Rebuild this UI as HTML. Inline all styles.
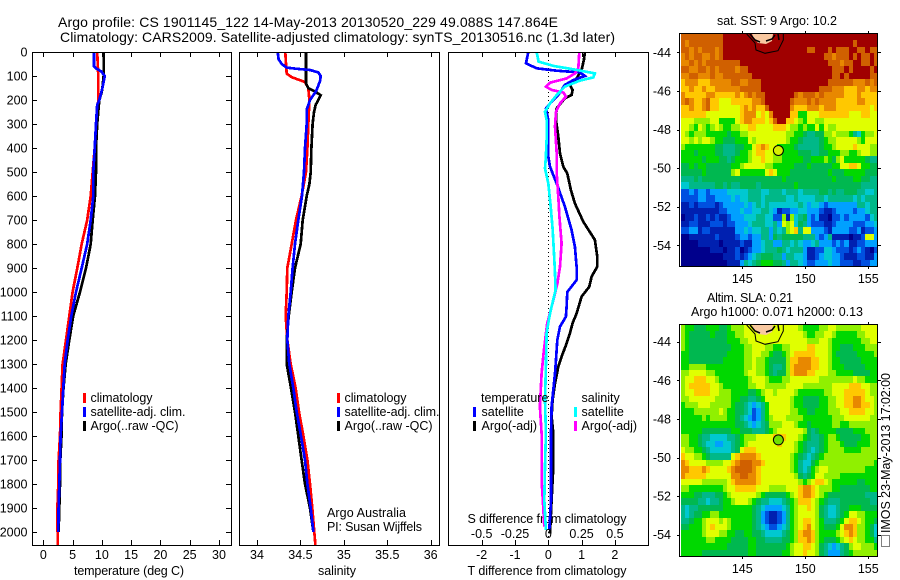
<!DOCTYPE html>
<html lang="en">
<head>
<meta charset="utf-8">
<title>Argo profile</title>
<style>
html,body{margin:0;padding:0;background:#fff;}
svg{display:block;font-family:"Liberation Sans",sans-serif;font-size:12.5px;fill:#000;}
text{fill:#000;}
</style>
</head>
<body>
<svg id="chart" xmlns="http://www.w3.org/2000/svg" width="900" height="580" viewBox="0 0 900 580">
<rect x="0" y="0" width="900" height="580" fill="#fff"/>
<text x="58" y="27" font-size="14" textLength="500" lengthAdjust="spacing">Argo profile: CS 1901145_122 14-May-2013 20130520_229 49.088S 147.864E</text>
<text x="60" y="42" font-size="14" textLength="555" lengthAdjust="spacing">Climatology: CARS2009. Satellite-adjusted climatology: synTS_20130516.nc (1.3d later)</text>
<text x="129" y="575" text-anchor="middle" textLength="110" lengthAdjust="spacing">temperature (deg C)</text>
<text x="337" y="575" text-anchor="middle" textLength="38" lengthAdjust="spacing">salinity</text>
<text x="547" y="575" text-anchor="middle" textLength="159" lengthAdjust="spacing">T difference from climatology</text>
<text x="547" y="523" text-anchor="middle" textLength="159" lengthAdjust="spacing">S difference from climatology</text>
<g>
<rect x="83" y="393" width="3" height="10" fill="#f00"/>
<rect x="83" y="407" width="3" height="10" fill="#00f"/>
<rect x="83" y="421" width="3" height="10" fill="#000"/>
<text x="90.5" y="402" textLength="62" lengthAdjust="spacing">climatology</text>
<text x="90.5" y="416" textLength="95" lengthAdjust="spacing">satellite-adj. clim.</text>
<text x="90.5" y="430" textLength="88" lengthAdjust="spacing">Argo(..raw -QC)</text>
</g>
<g>
<rect x="337" y="393" width="3" height="10" fill="#f00"/>
<rect x="337" y="407" width="3" height="10" fill="#00f"/>
<rect x="337" y="421" width="3" height="10" fill="#000"/>
<text x="344.5" y="402" textLength="62" lengthAdjust="spacing">climatology</text>
<text x="344.5" y="416" textLength="95" lengthAdjust="spacing">satellite-adj. clim.</text>
<text x="344.5" y="430" textLength="88" lengthAdjust="spacing">Argo(..raw -QC)</text>
<text x="327" y="517" textLength="79" lengthAdjust="spacing">Argo Australia</text>
<text x="327" y="531" textLength="95" lengthAdjust="spacing">PI: Susan Wijffels</text>
</g>
<g id="overlays-placeholder"></g>
<text x="777" y="25" text-anchor="middle" textLength="120" lengthAdjust="spacing">sat. SST: 9 Argo: 10.2</text>
<text x="750" y="302" text-anchor="middle" textLength="86" lengthAdjust="spacing">Altim. SLA: 0.21</text>
<text x="777" y="316" text-anchor="middle" textLength="172" lengthAdjust="spacing">Argo h1000: 0.071 h2000: 0.13</text>
<text transform="translate(890,533) rotate(-90)" textLength="160" lengthAdjust="spacing">IMOS 23-May-2013 17:02:00</text>
<rect x="881.5" y="535.5" width="8" height="11" fill="none" stroke="#000" stroke-width="1" stroke-dasharray="1 1"/>
</svg>
<script>
// ---- profile data ----
const depthTicks=[0,100,200,300,400,500,600,700,800,900,1000,1100,1200,1300,1400,1500,1600,1700,1800,1900,2000];
const tempTicks=[0,5,10,15,20,25,30];
const salTicks=[34,34.5,35,35.5,36];
const salTickLabels=["34","34.5","35","35.5","36"];
const tDiffTicks=[-2,-1,0,1,2];
const sDiffTicks=[-0.5,-0.25,0,0.25,0.5];
const sDiffTickLabels=["-0.5","-0.25","0","0.25","0.5"];
const latTicks=[-44,-46,-48,-50,-52,-54];
const lonTicks=[145,150,155];

const tempArgoDepth=[0,100,150,170,200,300,400,500,600,700,800,850,900,1000,1100,1200,1300,1400,1500,1600,1700,1800,1900,2000];
const tempArgo=[10.3,10.3,10.1,9.95,9.57,9.2,9.0,9.0,8.83,8.43,8.09,7.7,7.3,6.27,5.1,4.44,3.82,3.45,3.2,3.1,2.9,2.85,2.74,2.62];
const tempSatDepth=[0,60,70,80,100,150,200,220,300,400,500,600,700,800,900,1000,1100,1200,1300,1400,1500,1600,1700,1800,1900,2000];
const tempSat=[8.66,8.66,9.1,9.85,10.5,10.1,9.57,9.2,9.0,8.77,8.54,8.54,8.09,7.5,6.55,5.58,4.78,4.16,3.65,3.41,3.2,2.96,2.85,2.73,2.62,2.56];
const tempClimDepth=[0,100,200,300,400,500,600,700,800,900,1000,1100,1200,1300,1400,1500,1600,1700,1800,1900,2000,2054];
const tempClim=[9.2,9.39,9.39,9.0,8.77,8.43,8.09,7.5,6.55,5.8,5.0,4.44,3.87,3.3,3.13,2.96,2.85,2.62,2.56,2.4,2.45,2.45];

const salArgoDepth=[0,130,150,165,180,200,220,250,300,400,500,550,600,700,800,900,1000,1100,1200,1300,1400,1500,1600,1700,1800,1900,2000];
const salArgo=[34.564,34.564,34.59,34.668,34.733,34.706,34.676,34.656,34.64,34.626,34.618,34.603,34.572,34.526,34.503,34.438,34.40,34.365,34.342,34.342,34.392,34.438,34.476,34.514,34.553,34.61,34.649];
const salSatDepth=[0,30,50,65,70,75,85,100,120,150,170,200,240,300,400,500,600,700,800,900,1000,1100,1200,1300,1400,1500,1600,1700,1800,1900,2000];
const salSat=[34.238,34.249,34.284,34.342,34.457,34.61,34.706,34.733,34.726,34.695,34.668,34.61,34.572,34.572,34.553,34.541,34.518,34.476,34.438,34.41,34.388,34.36,34.349,34.372,34.418,34.457,34.507,34.553,34.58,34.618,34.649];
const salClimDepth=[0,50,90,105,125,150,200,300,400,500,600,700,800,900,1000,1100,1200,1300,1400,1500,1600,1700,1800,1900,2000,2054];
const salClim=[34.326,34.334,34.342,34.4,34.553,34.591,34.603,34.591,34.58,34.564,34.514,34.449,34.399,34.349,34.342,34.33,34.349,34.388,34.445,34.484,34.534,34.58,34.61,34.637,34.66,34.672];

const diffArgoTDepth=[0,33,75,110,137,158,179,193,235,283,353,422,478,506,575,631,707,783,853,894,936,978,1019,1089,1130,1172,1214,1269,1311,1381,1450,1519,1589,1728,1867,2006];
const diffArgoT=[1.10,1.07,1.00,0.85,0.65,0.73,0.70,0.50,0.25,0.23,0.30,0.35,0.45,0.57,0.68,0.80,1.05,1.40,1.47,1.47,1.30,1.23,1.00,0.85,0.73,0.65,0.55,0.40,0.30,0.20,0.13,0.10,0.15,0.15,0.10,0.05];
const diffSatTDepth=[0,47,68,78,85,100,117,137,179,207,235,283,367,436,478,547,644,742,811,894,950,1000,1061,1103,1144,1200,1283,1339,1408,1478,1589,1728,1867,1992];
const diffSatT=[-0.60,-0.67,-0.35,0.25,0.95,1.10,0.75,0.50,0.30,0.10,-0.07,0,0,0,0.05,0.25,0.50,0.70,0.80,0.85,0.85,0.57,0.55,0.53,0.35,0.27,0.23,0.20,0.15,0.10,0.08,0.08,0.08,0.03];
const diffSatSDepth=[0,40,58,72,89,106,119,144,179,214,249,283,367,436,485,547,644,742,839,922,992,1061,1103,1172,1311,1450,1589,1728,1867,1992];
const diffSatS=[-0.088,-0.073,0.038,0.188,0.35,0.338,0.238,0.125,0.063,0.013,-0.025,-0.013,-0.013,-0.018,-0.025,0,0.018,0.033,0.043,0.05,0.055,0.025,0.008,-0.013,-0.018,-0.025,-0.018,-0.025,-0.03,-0.018];
const diffArgoSDepth=[0,68,89,110,128,144,158,169,186,214,249,311,422,506,603,686,797,894,964,1033,1131,1242,1339,1478,1589,1783,1894,1978];
const diffArgoS=[0.233,0.225,0.2,0.138,0.013,-0.018,0.025,0.113,0.133,0.088,0.058,0.05,0.063,0.063,0.075,0.083,0.1,0.088,0.068,0.038,-0.008,-0.033,-0.05,-0.063,-0.05,-0.05,-0.038,-0.03];
const zeroLineDepth=[0,2054];
const zeroLine=[0,0];

// ---- map data: colour level 0 (navy) .. 13 (dark red) ----
const mapColours=["#00008c","#0020b0","#0050e0","#00a0ff","#00c8d0","#00b888","#00b850","#00d800","#90f000","#e0ff00","#ffc800","#e88800","#d06000","#a00000"];
const sstGrid=[
[12,12,12,12,12,12,12,12,12,12,13,13,13,13,13,13,13,13,13,13,13,13,13,13,13,13,13,13,13,13,13,13,13,13,13,13,13,13,13,13,13,13,13,13,13,13,13],
[12,11,12,12,12,12,12,12,12,12,13,13,13,13,13,13,13,13,13,13,13,13,13,13,13,13,13,13,13,13,13,13,13,13,13,13,13,13,13,13,13,12,13,13,13,13,13],
[12,12,11,12,11,12,12,12,11,12,13,13,13,13,13,13,13,13,13,13,13,13,13,13,13,13,13,13,13,13,12,12,13,13,13,12,13,12,12,12,13,13,12,12,13,12,12],
[11,12,11,12,12,11,11,12,11,12,13,13,13,13,13,13,13,13,13,13,13,13,13,13,13,13,13,13,13,13,13,13,13,13,12,12,11,12,12,12,13,12,13,12,12,13,12],
[11,11,12,11,12,11,12,12,12,12,12,12,12,12,13,13,13,13,13,13,13,13,13,13,13,13,13,13,13,13,13,13,13,13,13,12,12,12,11,12,12,13,13,12,12,13,12],
[12,12,11,11,12,12,11,12,11,12,12,12,12,11,12,12,13,13,13,13,13,13,13,13,13,13,13,13,13,13,13,13,13,13,13,13,12,12,12,13,12,13,13,13,13,12,13],
[11,11,12,12,11,11,11,12,11,11,12,12,12,12,12,12,12,13,13,13,13,13,13,13,13,13,13,13,13,13,13,13,13,13,13,13,12,12,13,12,13,13,13,13,13,12,12],
[10,11,11,11,10,10,10,11,11,11,11,11,12,12,11,11,12,12,12,13,13,13,13,13,13,13,13,13,13,13,13,13,13,13,13,12,12,12,12,12,12,11,11,11,12,11,12],
[10,10,11,10,10,11,10,10,11,11,11,11,11,11,12,12,12,12,12,13,13,13,13,13,13,13,13,13,13,13,13,13,13,12,12,12,11,11,11,10,10,10,11,11,10,11,11],
[11,10,10,10,10,10,11,11,10,10,10,10,10,11,10,11,12,11,12,12,13,13,13,13,13,13,13,12,11,12,12,12,11,12,11,11,11,11,11,10,10,10,11,10,10,10,10],
[11,12,11,10,10,11,12,10,10,9,9,9,10,10,10,10,10,11,11,12,13,13,13,13,13,13,12,11,11,11,12,11,12,11,11,11,11,10,10,10,10,10,11,11,10,10,10],
[10,10,11,10,10,11,12,10,10,9,9,9,9,9,10,11,10,11,10,10,12,13,13,13,13,13,11,10,10,10,11,11,11,10,11,11,11,10,10,10,10,10,10,10,10,9,10],
[10,10,10,10,10,10,9,9,9,9,9,9,9,9,10,11,11,11,9,10,9,11,13,13,13,13,10,10,7,7,9,9,9,10,10,10,10,10,10,10,9,9,9,10,10,9,9],
[9,9,9,8,8,8,8,9,9,7,7,7,7,9,10,11,11,10,10,10,9,10,12,13,13,10,10,9,8,7,9,9,8,8,9,9,9,9,9,9,9,9,9,9,9,9,9],
[9,9,8,7,9,8,7,8,9,8,7,7,8,8,9,9,10,10,9,9,9,9,10,10,10,9,8,8,7,8,7,7,9,7,9,8,8,9,9,9,9,9,9,9,9,9,9],
[9,8,7,8,8,8,7,7,7,7,7,6,7,7,8,8,9,9,9,9,9,9,9,9,9,8,8,7,7,6,5,5,6,6,8,8,9,8,8,8,7,5,4,7,8,8,9],
[9,9,8,9,8,9,9,8,7,7,6,6,6,7,7,7,9,8,9,9,9,9,9,9,9,8,7,7,6,5,5,5,5,6,7,8,8,9,9,9,9,9,8,7,9,9,9],
[8,7,7,7,7,7,7,7,6,6,5,5,5,6,6,7,7,9,10,11,10,9,9,7,7,7,7,6,5,5,5,5,5,6,7,7,8,9,9,9,9,10,9,9,9,8,8],
[7,7,7,6,7,7,7,7,6,6,5,5,5,6,7,7,8,9,10,10,9,9,8,8,7,7,7,7,6,6,6,5,5,6,6,7,7,7,8,8,7,7,8,9,9,8,8],
[7,7,7,7,7,6,7,7,7,6,6,5,6,7,7,7,8,9,9,10,9,9,8,8,7,7,7,7,7,6,6,7,7,7,8,7,6,8,9,7,7,7,7,7,6,5,5],
[6,6,7,6,7,7,6,6,6,6,6,6,7,7,8,9,9,9,9,9,8,8,7,7,7,7,7,6,6,6,7,6,6,6,6,6,7,7,9,9,10,10,9,7,7,6,6],
[6,6,6,6,6,7,6,6,6,6,6,6,8,9,7,7,7,7,7,7,9,10,9,7,7,7,6,6,6,6,6,6,6,6,6,7,6,6,6,7,7,7,7,7,6,6,6],
[5,5,5,6,5,6,6,6,6,6,6,6,6,6,6,6,6,6,6,6,6,6,6,6,7,6,6,6,6,6,6,6,6,6,6,6,7,6,6,6,6,7,7,6,6,5,5],
[4,4,5,5,5,5,5,5,6,6,5,6,5,5,6,6,6,6,5,6,6,6,6,6,6,6,6,7,6,6,6,6,6,6,6,6,6,6,6,6,6,6,6,5,5,5,5],
[2,2,3,2,3,3,2,3,3,3,3,4,4,4,4,4,5,5,5,4,4,5,5,5,4,5,5,5,4,5,5,5,5,6,6,5,6,5,5,6,6,6,5,5,4,4,5],
[2,2,2,2,3,3,2,2,3,3,3,3,4,3,4,4,5,5,5,4,5,5,5,5,5,4,4,5,4,4,4,4,5,5,4,5,5,5,5,5,5,4,5,4,5,5,5],
[1,1,2,1,2,2,2,2,1,2,3,3,3,3,3,4,3,4,5,4,5,4,4,4,4,4,4,4,5,4,3,4,4,3,2,3,3,3,3,3,3,3,5,5,4,5,5],
[1,1,1,1,1,1,1,1,1,2,2,3,3,3,4,3,3,4,4,5,5,4,3,1,2,2,3,3,4,4,3,3,3,2,1,1,2,3,3,3,3,2,3,3,4,5,5],
[0,1,1,2,1,1,2,1,2,1,1,2,3,3,3,4,4,4,5,5,4,4,2,2,8,1,8,4,5,6,3,2,3,1,1,0,2,2,3,2,3,3,3,3,2,4,5],
[1,1,2,2,1,1,1,2,2,2,1,2,2,3,3,3,4,5,5,5,4,4,5,3,9,8,9,4,6,5,3,2,2,2,1,1,2,3,3,3,3,2,2,2,3,3,4],
[2,2,3,3,1,2,2,1,1,1,1,1,1,3,3,4,3,4,4,5,5,3,5,4,5,8,9,10,5,9,9,3,3,3,2,1,3,3,3,3,2,2,3,1,2,2,3],
[0,0,1,1,1,1,1,1,2,1,1,1,1,2,3,3,2,3,3,5,5,3,6,5,6,6,6,6,6,5,5,5,3,2,3,5,1,1,1,1,0,1,1,2,9,9,3],
[0,0,0,0,1,1,1,1,1,0,1,1,1,1,2,1,1,3,3,4,5,5,3,3,5,5,4,5,4,3,3,4,5,3,3,3,2,3,2,3,1,1,2,2,3,3,3],
[0,0,0,0,0,0,0,1,1,1,0,1,1,2,0,1,2,3,3,4,5,5,5,6,5,4,5,5,5,3,1,1,2,2,4,4,3,2,2,2,1,2,3,2,1,0,2],
[0,0,0,0,0,0,0,0,0,0,1,1,1,2,1,2,3,4,5,6,6,6,5,5,3,5,5,4,4,3,1,1,2,3,4,4,3,3,2,1,1,1,2,2,1,1,3],
[0,0,0,0,0,0,0,0,0,0,0,1,1,1,3,5,4,5,6,7,7,7,6,6,5,3,5,5,4,3,2,2,3,3,3,4,3,3,2,2,2,1,1,2,2,3,3]
];
const slaGrid=[
[8,7,7,6,6,6,7,7,7,6,6,7,8,8,8,9,9,9,9,9,9,9,9,9,9,9,9,9,8,7,7,7,7,8,8,9,9,8,8,8,8,8,8,9,9,9,9],
[8,7,6,6,6,6,6,7,6,6,6,7,7,8,8,9,9,9,9,9,9,9,9,9,9,9,9,9,9,8,7,7,8,8,9,9,8,7,7,7,7,7,8,8,9,9,9],
[8,7,6,6,6,6,6,6,6,6,6,7,7,7,8,8,9,9,9,9,9,9,9,9,9,9,9,9,9,9,8,8,8,9,9,8,7,7,7,7,7,7,7,8,8,9,9],
[8,7,6,6,6,6,6,6,6,6,6,6,7,7,7,8,8,9,9,9,8,8,7,7,8,8,9,9,9,9,10,10,9,9,9,8,7,7,6,6,6,7,7,7,8,8,8],
[7,7,6,6,6,6,6,6,6,6,6,7,7,7,7,8,8,9,9,8,8,7,6,6,7,8,9,10,10,10,10,10,9,9,9,8,7,6,6,6,6,6,7,7,7,7,8],
[7,7,6,6,6,6,6,6,6,6,7,7,7,7,7,8,8,9,8,8,7,6,6,6,6,8,10,10,11,11,11,10,10,9,9,8,7,7,6,6,6,6,6,7,7,7,7],
[7,7,8,8,8,8,7,7,7,7,7,7,7,7,7,8,8,9,8,8,7,6,5,5,6,8,10,11,11,11,11,10,10,9,9,8,7,7,7,6,6,6,6,6,7,7,7],
[8,8,9,9,9,9,8,8,7,7,7,7,7,7,7,8,9,9,8,8,7,6,5,6,6,8,10,11,11,11,10,10,9,9,9,8,8,7,7,7,7,6,6,6,6,7,7],
[8,9,9,10,10,10,9,9,8,7,7,7,7,7,7,7,8,9,9,9,8,7,7,7,8,8,9,9,9,9,9,9,9,8,8,8,8,8,8,8,8,9,8,8,7,7,7],
[8,9,10,10,10,10,10,9,9,8,7,7,7,7,7,7,8,8,9,9,8,8,8,8,8,9,9,9,9,8,8,8,8,8,8,8,9,9,9,9,10,10,10,9,9,8,8],
[8,9,9,10,10,10,10,9,9,8,8,8,7,7,7,7,6,6,7,8,9,9,8,9,9,9,9,8,7,7,7,7,7,7,8,8,9,9,9,10,10,10,10,10,9,8,8],
[8,8,9,9,9,9,9,9,8,8,8,8,7,7,6,6,5,5,6,7,9,9,9,9,9,9,8,7,7,6,6,6,6,7,7,8,8,9,9,10,10,11,11,10,9,9,8],
[7,8,8,8,9,9,9,8,8,8,8,8,7,6,6,5,4,3,4,5,7,9,9,9,9,9,8,7,7,6,6,6,6,7,7,8,8,9,9,10,10,11,11,10,10,9,8],
[7,7,7,8,8,8,8,8,8,9,8,7,7,6,6,5,4,2,3,5,7,9,9,9,9,9,8,8,7,7,6,6,7,7,7,8,8,8,9,9,10,10,10,10,9,9,8],
[7,7,7,7,7,8,7,8,8,8,8,7,7,6,5,4,3,2,3,5,7,8,9,9,9,8,8,8,8,7,7,7,7,7,7,7,8,8,8,9,9,9,9,9,9,8,8],
[7,7,7,7,7,7,7,7,7,7,7,7,7,6,6,5,4,3,4,5,6,8,8,8,9,9,9,8,7,7,6,7,7,7,7,7,8,8,7,7,8,8,8,8,8,8,8],
[7,7,7,7,7,6,6,6,6,6,6,6,7,7,6,6,6,5,5,5,6,7,8,9,9,9,9,9,9,8,6,5,6,7,7,7,7,6,6,6,6,7,7,7,8,8,8],
[8,8,7,7,6,5,5,4,4,4,4,5,5,6,7,8,8,8,9,9,9,9,10,10,10,9,9,9,8,7,6,5,5,6,7,8,8,7,6,6,6,6,6,7,7,8,8],
[8,8,7,7,6,5,4,4,3,3,4,4,5,6,7,8,9,9,9,9,9,9,9,10,9,9,9,8,7,6,5,5,5,6,7,8,8,8,7,6,6,6,7,7,7,8,8],
[9,8,8,7,7,6,5,4,4,4,4,4,5,6,9,10,10,10,9,9,9,9,9,9,9,9,9,8,7,6,5,4,5,6,7,8,8,8,8,7,7,7,7,8,8,8,8],
[10,9,9,8,8,7,6,5,5,5,5,5,9,10,11,11,11,11,10,9,9,9,9,9,9,9,8,7,6,5,4,5,6,7,8,8,8,8,8,8,8,8,8,8,8,8,8],
[11,10,9,9,9,9,8,8,8,8,9,9,10,11,12,12,12,11,11,10,9,9,9,9,9,9,8,7,5,4,4,6,7,8,8,8,8,8,8,8,8,8,8,8,8,8,7],
[11,11,10,10,10,11,10,9,9,9,9,10,11,12,12,12,12,11,10,9,9,9,9,9,9,9,8,7,5,4,5,7,8,9,9,8,8,8,8,8,8,8,8,8,7,7,7],
[11,10,10,10,10,10,9,9,9,9,9,9,11,11,12,12,11,11,10,9,9,9,9,9,9,9,9,8,6,5,6,7,9,9,8,8,8,8,7,7,7,7,7,7,7,7,7],
[9,9,9,9,9,8,8,8,8,8,8,9,10,11,11,11,11,11,10,9,9,9,9,9,9,9,9,9,8,7,8,9,10,10,9,8,7,7,7,7,7,7,6,6,7,7,7],
[8,8,7,7,7,7,7,7,7,7,8,9,9,10,10,10,10,10,9,9,9,8,8,8,8,9,9,9,10,11,11,10,9,8,8,8,7,7,6,6,6,6,6,6,6,7,7],
[7,7,7,6,6,5,5,5,6,6,7,8,9,9,9,9,9,9,8,7,6,6,6,6,6,7,8,9,10,11,11,10,9,8,7,6,6,6,6,6,6,6,6,6,5,5,5],
[6,6,6,6,5,5,4,5,5,6,7,7,8,9,9,9,8,7,6,5,5,4,4,4,5,6,7,8,10,10,10,9,8,7,6,5,5,5,6,6,6,6,6,6,6,5,5],
[5,4,5,5,6,6,6,6,6,6,7,7,7,7,7,7,7,6,5,4,3,3,3,3,4,5,7,8,9,9,10,9,8,6,5,4,4,5,6,6,7,7,7,6,6,6,6],
[5,4,5,6,6,7,7,8,8,7,7,7,7,7,7,7,7,6,5,3,2,1,1,2,3,5,7,8,9,9,9,9,8,6,5,4,4,5,6,7,9,9,8,8,7,7,7],
[5,5,6,7,7,8,9,9,9,8,9,8,7,7,7,7,7,6,5,3,2,1,1,2,3,5,7,8,9,10,10,9,8,7,5,5,5,6,7,9,10,10,9,8,7,7,6],
[6,6,7,7,7,8,9,10,9,9,9,8,7,7,7,7,7,6,5,4,3,2,2,3,4,5,7,8,9,10,11,9,8,7,6,6,6,7,9,11,11,10,8,8,7,6,4],
[7,7,7,7,7,8,9,9,9,8,8,7,7,6,6,7,7,6,6,5,4,4,4,4,5,6,7,8,10,11,11,10,8,7,7,7,7,8,9,10,11,10,8,8,7,6,4],
[7,7,7,7,7,7,8,8,7,7,7,7,6,6,6,6,7,7,6,6,5,5,5,5,6,6,7,8,10,10,11,10,8,7,6,6,6,7,8,9,10,9,8,8,7,7,5],
[7,7,7,7,7,7,7,7,7,7,7,6,6,6,6,6,7,7,6,6,6,6,6,6,6,7,8,9,9,10,10,9,8,6,5,4,3,4,5,6,8,9,9,8,8,8,7],
[7,7,7,7,7,6,6,6,6,6,6,6,6,6,6,6,7,7,6,6,6,6,6,6,7,7,8,9,9,10,9,9,8,6,5,3,3,3,5,6,7,8,8,8,8,8,8]
];
const sstPoint=[147.864,-49.088];
const slaPoint=[147.864,-49.088];

// ---- drawing ----
const NS="http://www.w3.org/2000/svg";
const svg=document.getElementById("chart");
const anchor=document.getElementById("overlays-placeholder");
function mk(tag,attrs,parent){
  const e=document.createElementNS(NS,tag);
  for(const k in attrs){e.setAttribute(k,attrs[k]);}
  (parent||svg).insertBefore(e,parent?null:anchor);
  return e;
}
const plotTop=52,plotBottom=545,pxPerDepth=0.24;
const yDepth=d=>plotTop+d*pxPerDepth;
const xTemp=v=>43.3+5.856*v;
const xSal=v=>257+86.85*(v-34);
const xDiffT=v=>548.3+33.3*v;
const xDiffS=v=>548.3+133.2*v;

function panelClip(id,x0,x1){
  const c=mk("clipPath",{id:id});
  mk("rect",{x:x0,y:plotTop,width:x1-x0,height:plotBottom-plotTop},c);
}
function drawFrame(x0,x1,name){
  const r=mk("rect",{x:x0+0.5,y:plotTop+0.5,width:x1-x0,height:plotBottom-plotTop,fill:"none",stroke:"#000","stroke-width":1,"shape-rendering":"crispEdges"});
  
  
}
function drawSeries(depths,values,xf,colour,clip,name,extra){
  const pts=values.map((v,i)=>xf(v).toFixed(1)+","+yDepth(depths[i]).toFixed(1)).join(" ");
  const a={points:pts,fill:"none",stroke:colour,"stroke-width":2.7,"shape-rendering":"crispEdges","clip-path":"url(#"+clip+")"};
  if(extra){for(const k in extra){a[k]=extra[k];}}
  const l=mk("polyline",a);
  
  
}
function tick(x1,y1,x2,y2,name){
  const t=mk("line",{x1:x1,y1:y1,x2:x2,y2:y2,stroke:"#000","stroke-width":1,"shape-rendering":"crispEdges"});
  
  
}
function label(x,y,anchorPos,str,name){
  const t=mk("text",{x:x,y:y,"text-anchor":anchorPos});
  t.textContent=str;
  
  
}
function xAxisTicks(ticks,labels,xf,labelY,name,drawLabels){
  ticks.forEach((v,i)=>{
    const x=Math.round(xf(v))+0.5;
    tick(x,plotTop,x,plotTop+5,name+"-tick-top");
    tick(x,plotBottom,x,plotBottom-5,name+"-tick-bottom");
    if(drawLabels){label(xf(v),labelY,"middle",labels[i],name+"-tick-label");}
  });
}

panelClip("clip-t",32,231);
panelClip("clip-s",240,439);
panelClip("clip-d",449,648);

drawSeries(tempClimDepth,tempClim,xTemp,"#f00","clip-t","temperature-climatology-line");
drawSeries(tempArgoDepth,tempArgo,xTemp,"#000","clip-t","temperature-argo-line");
drawSeries(tempSatDepth,tempSat,xTemp,"#00f","clip-t","temperature-satellite-line");
drawFrame(32,231,"temperature-panel-frame");
depthTicks.forEach(d=>{
  const y=Math.round(yDepth(d))+0.5;
  tick(32,y,37,y,"depth-tick-left");
  tick(231,y,226,y,"depth-tick-right");
  label(27.5,yDepth(d)+4.5,"end",String(d),"depth-tick-label");
});
xAxisTicks(tempTicks,tempTicks.map(String),xTemp,559,"temperature-axis",true);

drawSeries(salClimDepth,salClim,xSal,"#f00","clip-s","salinity-climatology-line");
drawSeries(salArgoDepth,salArgo,xSal,"#000","clip-s","salinity-argo-line");
drawSeries(salSatDepth,salSat,xSal,"#00f","clip-s","salinity-satellite-line");
drawFrame(239,439,"salinity-panel-frame");
xAxisTicks(salTicks,salTickLabels,xSal,559,"salinity-axis",true);

drawSeries(zeroLineDepth,zeroLine,xDiffT,"#000","clip-d","zero-difference-line",{"stroke-width":1,"stroke-dasharray":"1 3"});
drawSeries(diffArgoTDepth,diffArgoT,xDiffT,"#000","clip-d","t-difference-argo-line");
drawSeries(diffSatTDepth,diffSatT,xDiffT,"#00f","clip-d","t-difference-satellite-line");
drawSeries(diffArgoSDepth,diffArgoS,xDiffS,"#f0f","clip-d","s-difference-argo-line");
drawSeries(diffSatSDepth,diffSatS,xDiffS,"#0ff","clip-d","s-difference-satellite-line");
drawFrame(448,648,"difference-panel-frame");
xAxisTicks(tDiffTicks,tDiffTicks.map(String),xDiffT,559,"t-difference-axis",true);
sDiffTicks.forEach((v,i)=>{label(xDiffS(v),538,"middle",sDiffTickLabels[i],"s-difference-tick-label");});

// difference panel legend
const diffLegendSwatches=[[473,407,"#00f"],[473,421,"#000"],[574,407,"#0ff"],[574,421,"#f0f"]];
diffLegendSwatches.forEach(s=>{
  const r=mk("rect",{x:s[0],y:s[1],width:3,height:10,fill:s[2]});
  
  
});
const diffLegendText=[[481,402,"temperature"],[481.5,416,"satellite"],[481.5,430,"Argo(-adj)"],[581.5,402,"salinity"],[581.5,416,"satellite"],[581.5,430,"Argo(-adj)"]];
diffLegendText.forEach(s=>{
  const t=mk("text",{x:s[0],y:s[1]});
  t.textContent=s[2];
  
  
});

// maps
const xLon=lon=>742.3+12.6*(lon-145);
function drawMap(grid,top,bottom,latAt44,point,pointColour,labelY,name){
  const cellH=(bottom-1-top)/grid.length;
  const mapLeft=681,mapRight=878;
  const yLat=lat=>latAt44+19.3*(-44-lat);
  grid.forEach((row,r)=>{
    const cellW=(mapRight-mapLeft)/row.length;
    row.forEach((v,c)=>{
      const x0=Math.round(mapLeft+c*cellW),x1=Math.round(mapLeft+(c+1)*cellW);
      const y0=Math.round(top+r*cellH),y1=Math.round(top+(r+1)*cellH);
      const cell=mk("rect",{x:x0,y:y0,width:x1-x0,height:y1-y0,fill:mapColours[Math.max(0,Math.min(13,Math.round(v)))],"shape-rendering":"crispEdges"});
      
      
    });
  });
  const off=top-34;
  const land=mk("path",{d:"M752 "+(34+off)+"L773 "+(34+off)+"L772 "+(41+off)+"L766 "+(44+off)+"L758 "+(43+off)+"L754 "+(39+off)+"Z",fill:"#f8c8a0"});
  
  
  const ring=mk("path",{d:"M746.7 "+(34+off)+"L755 "+(43+off)+"L756 "+(50+off)+"L765 "+(53.3+off)+"L778 "+(50.7+off)+"L783.3 "+(40+off)+"L783.3 "+(34+off),fill:"none",stroke:"#000","stroke-width":1});
  
  
  const coast=mk("path",{d:"M750 "+(34+off)+"L755 "+(40+off)+"L760 "+(42+off)+"M766 "+(41+off)+"L772 "+(39+off)+"L775 "+(35+off)+"M778 "+(34+off)+"L779 "+(40+off),fill:"none",stroke:"#000","stroke-width":1.5});
  
  
  const frame=mk("rect",{x:679.5,y:top-0.5,width:198,height:bottom-top,fill:"none",stroke:"#000","stroke-width":1,"shape-rendering":"crispEdges"});
  
  
  latTicks.forEach(lat=>{
    const y=Math.round(yLat(lat))+0.5;
    tick(677,y,680,y,name+"-lat-tick-left");
    tick(878,y,881,y,name+"-lat-tick-right");
    label(671,yLat(lat)+4.5,"end",String(lat),name+"-lat-tick-label");
  });
  lonTicks.forEach(lon=>{
    const x=Math.round(xLon(lon))+0.5;
    tick(x,top-3,x,top,name+"-lon-tick-top");
    tick(x,bottom-0.5,x,bottom+2,name+"-lon-tick-bottom");
    label(xLon(lon),labelY,"middle",String(lon),name+"-lon-tick-label");
  });
  const dot=mk("circle",{cx:xLon(point[0]),cy:yLat(point[1]),r:5,fill:pointColour,stroke:"#000","stroke-width":1});
  
  
}
drawMap(sstGrid,34,267,52.3,sstPoint,"#d8f000",283,"sst-map");
drawMap(slaGrid,325,557,341.7,slaPoint,"#70e000",573,"sla-map");
</script>
</body>
</html>
